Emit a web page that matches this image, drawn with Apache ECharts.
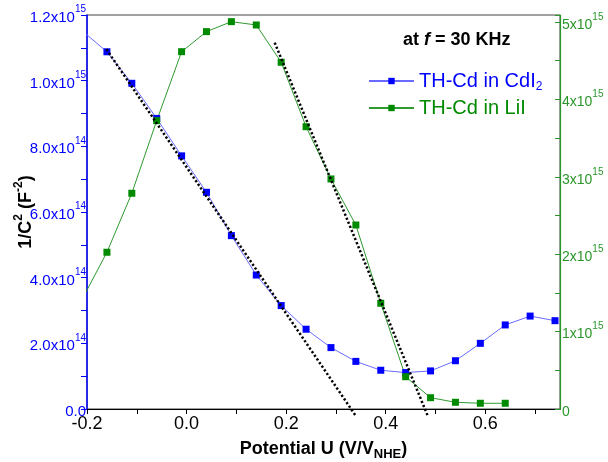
<!DOCTYPE html>
<html>
<head>
<meta charset="utf-8">
<title>Mott-Schottky plot at 30 KHz</title>
<script src="https://cdn.jsdelivr.net/npm/echarts@6/dist/echarts.min.js"></script>
<style>
  html, body { margin: 0; padding: 0; background: #ffffff; }
  #chart { width: 608px; height: 462px; }
</style>
</head>
<body>
<div id="chart"></div>
<script>
// Applied potential (V vs NHE) at which 1/C^2 was measured
const potential = [-0.21, -0.16, -0.11, -0.06, -0.01, 0.04, 0.09, 0.14, 0.19, 0.24,
                   0.29, 0.34, 0.39, 0.44, 0.49, 0.54, 0.59, 0.64, 0.69, 0.74];
// 1/C^2 (F^-2) for TH-Cd in CdI2 (left axis)
const invC2CdI2 = [1.152e15, 1.088e15, 0.992e15, 0.885e15, 0.771e15, 0.660e15, 0.528e15, 0.408e15, 0.315e15, 0.243e15,
                   0.187e15, 0.145e15, 0.118e15, 0.111e15, 0.116e15, 0.147e15, 0.200e15, 0.256e15, 0.283e15, 0.269e15];
// 1/C^2 (F^-2) for TH-Cd in LiI (right axis)
const invC2LiI = [1.415e15, 2.025e15, 2.787e15, 3.725e15, 4.616e15, 4.875e15, 5.004e15, 4.961e15, 4.479e15, 3.647e15,
                  2.972e15, 2.377e15, 1.366e15, 0.417e15, 0.146e15, 0.087e15, 0.074e15, 0.074e15, null, null];
// Linear fits of the depletion regions (end points)
const fitCdI2U = [-0.161, 0.341];
const fitCdI2V = [1.0955e15, -0.0235e15];
const fitLiIU = [0.177, 0.485];
const fitLiIV = [4.733e15, -0.099e15];
// Axis tick labels
const xTickLabels = ['-0.2', '0.0', '0.2', '0.4', '0.6'];
const leftTickLabels = ['0.0', '2.0x10|14', '4.0x10|14', '6.0x10|14', '8.0x10|14', '1.0x10|15', '1.2x10|15'];
const rightTickLabels = ['0', '1x10|15', '2x10|15', '3x10|15', '4x10|15', '5x10|15'];

const BLUE = '#0000ff';
const BLUE_LINE = '#6a6aff';
const GREEN = '#008a00';
const GREEN_LINE = '#2f9a2f';
const GREEN_AXIS = '#2a962a';
const FONT = 'Liberation Sans, Arial, sans-serif';

function pairs(xs, ys) {
  return xs.map((x, i) => [x, ys[i]]);
}
function powLabel(text, cls) {
  if (text.indexOf('|') < 0) return '{' + cls + '|' + text + '}';
  const p = text.split('|');
  return '{' + cls + '|' + p[0] + '}{' + cls + 's|' + p[1] + '}';
}

const chart = echarts.init(document.getElementById('chart'), null, { renderer: 'canvas' });

chart.setOption({
  animation: false,
  backgroundColor: '#ffffff',
  textStyle: { fontFamily: FONT },
  grid: {
    left: 87, right: 48, top: 15, bottom: 53,
    outerBoundsMode: 'none', containLabel: false,
    show: true, borderColor: '#444444', borderWidth: 1, backgroundColor: 'transparent'
  },
  title: {
    text: '{b|at }{i|f}{b| = 30 KHz}',
    left: 398, top: 26,
    textStyle: {
      rich: {
        b: { fontSize: 18, fontWeight: 'bold', color: '#000', fontFamily: FONT },
        i: { fontSize: 18, fontWeight: 'bold', fontStyle: 'italic', color: '#000', fontFamily: FONT }
      }
    }
  },
  legend: {
    left: 363, top: 66,
    orient: 'vertical',
    itemWidth: 45, itemHeight: 8, itemGap: 5,
    selectedMode: false,
    data: [
      { name: 'TH-Cd in CdI2', textStyle: { rich: {
        t: { fontSize: 20, color: BLUE, fontFamily: FONT },
        s: { fontSize: 12, color: BLUE, verticalAlign: 'bottom', padding: [12, 0, 0, 0], fontFamily: FONT } } } },
      { name: 'TH-Cd in LiI', textStyle: { rich: {
        t: { fontSize: 20, color: GREEN, fontFamily: FONT } } } }
    ],
    formatter: function (name) {
      return name === 'TH-Cd in CdI2' ? '{t|TH-Cd in CdI}{s|2}' : '{t|TH-Cd in LiI}';
    }
  },
  xAxis: {
    type: 'value',
    min: -0.2, max: 0.75, interval: 0.1,
    name: '{m|Potential U (V/V}{s|NHE}{m|)}',
    nameLocation: 'middle', nameGap: 29, nameMoveOverlap: false,
    nameTextStyle: { rich: {
      m: { fontSize: 18, fontWeight: 'bold', color: '#000', fontFamily: FONT },
      s: { fontSize: 13, fontWeight: 'bold', color: '#000', verticalAlign: 'bottom', padding: [10, 0, 0, 0], fontFamily: FONT }
    } },
    axisLine: { onZero: false, lineStyle: { color: '#000', width: 1.2 } },
    axisTick: { inside: false, length: 5, lineStyle: { color: '#000', width: 1 } },
    splitLine: { show: false },
    axisLabel: {
      margin: 6, fontSize: 18, color: '#000', showMaxLabel: false,
      formatter: function (v) {
        const k = Math.round(v * 10);
        if (Math.abs(v * 10 - k) > 1e-6 || k % 2 !== 0) return '';
        return xTickLabels[(k + 2) / 2] || '';
      }
    }
  },
  yAxis: [
    {
      type: 'value', position: 'left',
      min: 0, max: 1.2e15, interval: 2e14,
      name: '{m|1/C}{s|2}{m| (F}{s|-2}{m|)}',
      nameLocation: 'middle', nameGap: 52, nameRotate: 90, nameMoveOverlap: false,
      nameTextStyle: { rich: {
        m: { fontSize: 18, fontWeight: 'bold', color: '#000', verticalAlign: 'bottom', lineHeight: 22, fontFamily: FONT },
        s: { fontSize: 12, fontWeight: 'bold', color: '#000', verticalAlign: 'top', lineHeight: 22, fontFamily: FONT }
      } },
      axisLine: { show: true, onZero: false, lineStyle: { color: BLUE, width: 1.5 } },
      axisTick: { show: true, inside: false, length: 6, lineStyle: { color: BLUE, width: 1 } },
      minorTick: { show: true, splitNumber: 2, length: 6, lineStyle: { color: BLUE, width: 1 } },
      splitLine: { show: false },
      axisLabel: {
        margin: 1, color: BLUE,
        formatter: function (v) {
          const k = Math.round(v / 2e14);
          return powLabel(leftTickLabels[k] || '', 'l');
        },
        rich: {
          l: { fontSize: 15, color: BLUE, verticalAlign: 'bottom', lineHeight: 21, fontFamily: FONT },
          ls: { fontSize: 10, color: BLUE, verticalAlign: 'top', lineHeight: 11, fontFamily: FONT }
        }
      }
    },
    {
      type: 'value', position: 'right',
      min: 0, max: 5.09e15, interval: 5e14,
      axisLine: { show: true, onZero: false, lineStyle: { color: GREEN_AXIS, width: 1.2 } },
      axisTick: { show: true, inside: true, length: 5, lineStyle: { color: GREEN_AXIS, width: 1 } },
      splitLine: { show: false },
      axisLabel: {
        margin: 2, color: GREEN_AXIS,
        formatter: function (v) {
          const k = v / 1e15;
          if (Math.abs(k - Math.round(k)) > 1e-6) return '';
          return powLabel(rightTickLabels[Math.round(k)] || '', 'r');
        },
        rich: {
          r: { fontSize: 14, color: GREEN_AXIS, verticalAlign: 'bottom', lineHeight: 20, fontFamily: FONT },
          rs: { fontSize: 10, color: GREEN_AXIS, verticalAlign: 'top', lineHeight: 11, fontFamily: FONT }
        }
      }
    }
  ],
  series: [
    {
      name: 'TH-Cd in CdI2', type: 'line', yAxisIndex: 0,
      data: pairs(potential, invC2CdI2),
      clip: true,
      symbol: 'rect', symbolSize: 7,
      itemStyle: { color: BLUE },
      lineStyle: { color: BLUE_LINE, width: 1 },
      z: 3
    },
    {
      name: 'TH-Cd in LiI', type: 'line', yAxisIndex: 1,
      data: pairs(potential, invC2LiI),
      clip: true,
      symbol: 'rect', symbolSize: 7,
      itemStyle: { color: GREEN },
      lineStyle: { color: GREEN_LINE, width: 1 },
      z: 3
    },
    {
      name: 'fit CdI2', type: 'line', yAxisIndex: 0,
      data: pairs(fitCdI2U, fitCdI2V),
      clip: false, silent: true, showSymbol: false, symbol: 'none',
      lineStyle: { color: '#000', width: 2.5, type: [2.2, 2.2] },
      z: 4
    },
    {
      name: 'fit LiI', type: 'line', yAxisIndex: 1,
      data: pairs(fitLiIU, fitLiIV),
      clip: false, silent: true, showSymbol: false, symbol: 'none',
      lineStyle: { color: '#000', width: 2.5, type: [2.2, 2.2] },
      z: 4
    }
  ]
});
</script>
</body>
</html>
